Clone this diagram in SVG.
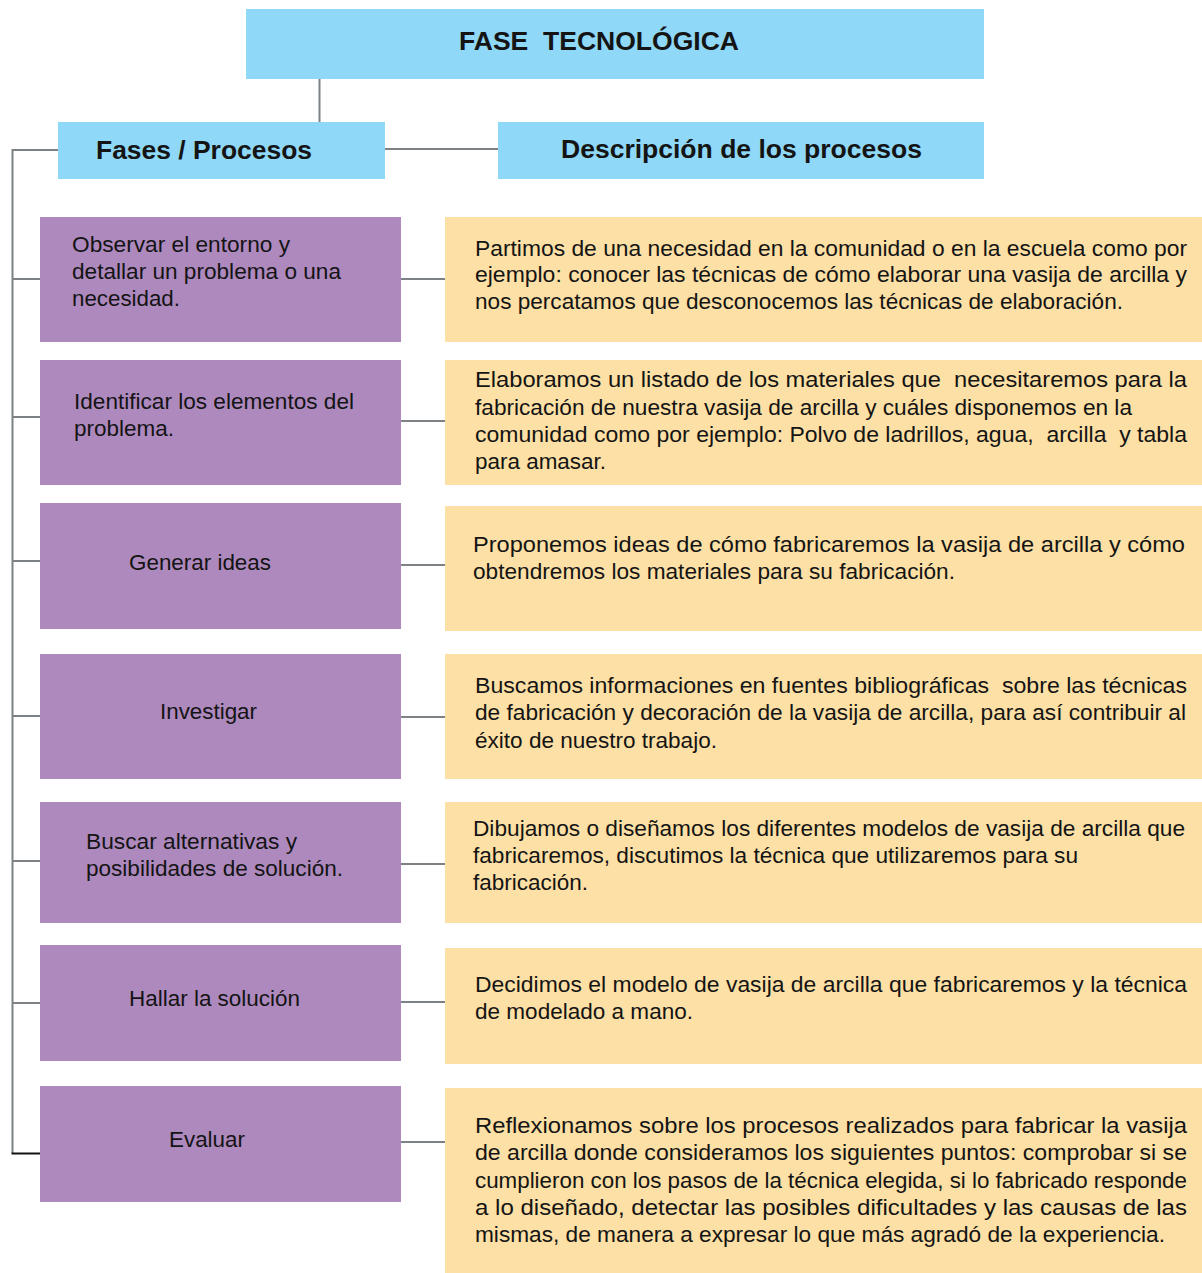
<svg xmlns="http://www.w3.org/2000/svg" width="1202" height="1273" viewBox="0 0 1202 1273">
<style>
.hdr{fill:#8fd8f7}
.ph{fill:#ae89be}
.ds{fill:#fde0a5}
.ln{stroke:#7b8184;stroke-width:2;fill:none}
text{font-family:"Liberation Sans",Arial,sans-serif;fill:#141414}
.b{font-weight:bold;font-size:25px}
.t{font-size:21.5px}
</style>
<rect width="1202" height="1273" fill="#ffffff"/>
<g id="connectors">
<line class="ln" x1="319.5" y1="78" x2="319.5" y2="122"/>
<line class="ln" x1="385" y1="149" x2="498" y2="149"/>
<polyline class="ln" points="58,150 12.5,150 12.5,1153"/>
<line class="ln" x1="12" y1="279" x2="40" y2="279"/>
<line class="ln" x1="12" y1="417" x2="40" y2="417"/>
<line class="ln" x1="12" y1="561" x2="40" y2="561"/>
<line class="ln" x1="12" y1="716" x2="40" y2="716"/>
<line class="ln" x1="12" y1="861" x2="40" y2="861"/>
<line class="ln" x1="12" y1="1003" x2="40" y2="1003"/>
<line x1="11.5" y1="1153.5" x2="40" y2="1153.5" stroke="#111" stroke-width="2"/>
<line class="ln" x1="401" y1="279" x2="445" y2="279"/>
<line class="ln" x1="401" y1="421" x2="445" y2="421"/>
<line class="ln" x1="401" y1="565" x2="445" y2="565"/>
<line class="ln" x1="401" y1="717" x2="445" y2="717"/>
<line class="ln" x1="401" y1="864" x2="445" y2="864"/>
<line class="ln" x1="401" y1="1002" x2="445" y2="1002"/>
<line class="ln" x1="401" y1="1142" x2="445" y2="1142"/>
</g>
<g id="title">
<rect class="hdr" x="246" y="9" width="738" height="70"/>
<text class="b" x="459" y="50" textLength="280" lengthAdjust="spacingAndGlyphs" xml:space="preserve">FASE  TECNOLÓGICA</text>
</g>
<g id="fases">
<rect class="hdr" x="58" y="122" width="327" height="57"/>
<text class="b" x="96" y="159" textLength="216" lengthAdjust="spacingAndGlyphs">Fases / Procesos</text>
</g>
<g id="descripcion">
<rect class="hdr" x="498" y="122" width="486" height="57"/>
<text class="b" x="561" y="158" textLength="361" lengthAdjust="spacingAndGlyphs">Descripción de los procesos</text>
</g>
<g id="p1">
<rect class="ph" x="40" y="217" width="361" height="125"/>
<text class="t" x="72" y="252" textLength="218" lengthAdjust="spacingAndGlyphs">Observar el entorno y</text>
<text class="t" x="72" y="279" textLength="269" lengthAdjust="spacingAndGlyphs">detallar un problema o una</text>
<text class="t" x="72" y="306" textLength="108" lengthAdjust="spacingAndGlyphs">necesidad.</text>
</g>
<g id="p2">
<rect class="ph" x="40" y="360" width="361" height="125"/>
<text class="t" x="74" y="409" textLength="280" lengthAdjust="spacingAndGlyphs">Identificar los elementos del</text>
<text class="t" x="74" y="436" textLength="100" lengthAdjust="spacingAndGlyphs">problema.</text>
</g>
<g id="p3">
<rect class="ph" x="40" y="503" width="361" height="126"/>
<text class="t" x="129" y="570" textLength="142" lengthAdjust="spacingAndGlyphs">Generar ideas</text>
</g>
<g id="p4">
<rect class="ph" x="40" y="654" width="361" height="125"/>
<text class="t" x="160" y="719" textLength="97" lengthAdjust="spacingAndGlyphs">Investigar</text>
</g>
<g id="p5">
<rect class="ph" x="40" y="802" width="361" height="121"/>
<text class="t" x="86" y="849" textLength="211" lengthAdjust="spacingAndGlyphs">Buscar alternativas y</text>
<text class="t" x="86" y="876" textLength="257" lengthAdjust="spacingAndGlyphs">posibilidades de solución.</text>
</g>
<g id="p6">
<rect class="ph" x="40" y="945" width="361" height="116"/>
<text class="t" x="129" y="1006" textLength="171" lengthAdjust="spacingAndGlyphs">Hallar la solución</text>
</g>
<g id="p7">
<rect class="ph" x="40" y="1086" width="361" height="116"/>
<text class="t" x="169" y="1147" textLength="76" lengthAdjust="spacingAndGlyphs">Evaluar</text>
</g>
<g id="d1">
<rect class="ds" x="445" y="217" width="757" height="125"/>
<text class="t" x="475" y="256" textLength="712" lengthAdjust="spacingAndGlyphs">Partimos de una necesidad en la comunidad o en la escuela como por</text>
<text class="t" x="475" y="282" textLength="712" lengthAdjust="spacingAndGlyphs">ejemplo: conocer las técnicas de cómo elaborar una vasija de arcilla y</text>
<text class="t" x="475" y="309" textLength="648" lengthAdjust="spacingAndGlyphs">nos percatamos que desconocemos las técnicas de elaboración.</text>
</g>
<g id="d2">
<rect class="ds" x="445" y="360" width="757" height="125"/>
<text class="t" x="475" y="387" textLength="712" lengthAdjust="spacingAndGlyphs" xml:space="preserve">Elaboramos un listado de los materiales que  necesitaremos para la</text>
<text class="t" x="475" y="415" textLength="657" lengthAdjust="spacingAndGlyphs">fabricación de nuestra vasija de arcilla y cuáles disponemos en la</text>
<text class="t" x="475" y="442" textLength="712" lengthAdjust="spacingAndGlyphs" xml:space="preserve">comunidad como por ejemplo: Polvo de ladrillos, agua,  arcilla  y tabla</text>
<text class="t" x="475" y="469" textLength="131" lengthAdjust="spacingAndGlyphs">para amasar.</text>
</g>
<g id="d3">
<rect class="ds" x="445" y="506" width="757" height="125"/>
<text class="t" x="473" y="552" textLength="712" lengthAdjust="spacingAndGlyphs">Proponemos ideas de cómo fabricaremos la vasija de arcilla y cómo</text>
<text class="t" x="473" y="579" textLength="482" lengthAdjust="spacingAndGlyphs">obtendremos los materiales para su fabricación.</text>
</g>
<g id="d4">
<rect class="ds" x="445" y="654" width="757" height="125"/>
<text class="t" x="475" y="693" textLength="712" lengthAdjust="spacingAndGlyphs" xml:space="preserve">Buscamos informaciones en fuentes bibliográficas  sobre las técnicas</text>
<text class="t" x="475" y="720" textLength="711" lengthAdjust="spacingAndGlyphs">de fabricación y decoración de la vasija de arcilla, para así contribuir al</text>
<text class="t" x="475" y="748" textLength="242" lengthAdjust="spacingAndGlyphs">éxito de nuestro trabajo.</text>
</g>
<g id="d5">
<rect class="ds" x="445" y="802" width="757" height="121"/>
<text class="t" x="473" y="836" textLength="712" lengthAdjust="spacingAndGlyphs">Dibujamos o diseñamos los diferentes modelos de vasija de arcilla que</text>
<text class="t" x="473" y="863" textLength="605" lengthAdjust="spacingAndGlyphs">fabricaremos, discutimos la técnica que utilizaremos para su</text>
<text class="t" x="473" y="890" textLength="115" lengthAdjust="spacingAndGlyphs">fabricación.</text>
</g>
<g id="d6">
<rect class="ds" x="445" y="948" width="757" height="116"/>
<text class="t" x="475" y="992" textLength="712" lengthAdjust="spacingAndGlyphs">Decidimos el modelo de vasija de arcilla que fabricaremos y la técnica</text>
<text class="t" x="475" y="1019" textLength="218" lengthAdjust="spacingAndGlyphs">de modelado a mano.</text>
</g>
<g id="d7">
<rect class="ds" x="445" y="1088" width="757" height="185"/>
<text class="t" x="475" y="1133" textLength="712" lengthAdjust="spacingAndGlyphs">Reflexionamos sobre los procesos realizados para fabricar la vasija</text>
<text class="t" x="475" y="1160" textLength="712" lengthAdjust="spacingAndGlyphs">de arcilla donde consideramos los siguientes puntos: comprobar si se</text>
<text class="t" x="475" y="1188" textLength="712" lengthAdjust="spacingAndGlyphs">cumplieron con los pasos de la técnica elegida, si lo fabricado responde</text>
<text class="t" x="475" y="1215" textLength="712" lengthAdjust="spacingAndGlyphs">a lo diseñado, detectar las posibles dificultades y las causas de las</text>
<text class="t" x="475" y="1242" textLength="690" lengthAdjust="spacingAndGlyphs">mismas, de manera a expresar lo que más agradó de la experiencia.</text>
</g>
</svg>
